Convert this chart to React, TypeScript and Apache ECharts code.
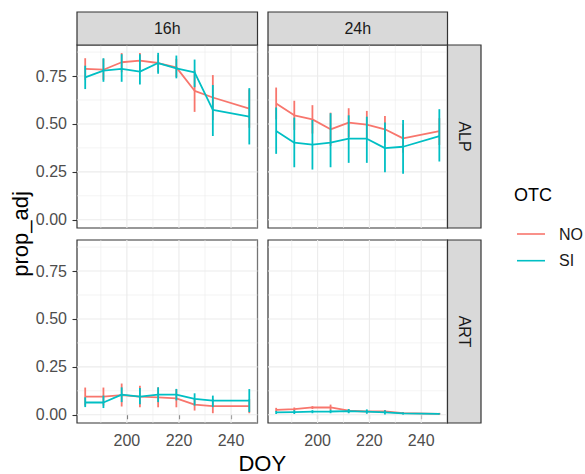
import React, { useEffect, useRef } from "react";
import * as echarts from "echarts";

// ---- data ----
const DOY = [184, 191, 198, 205, 212, 219, 226, 233, 247];
const OTC_LEVELS = ["NO", "SI"];
const PHOTOPERIODS = ["16h", "24h"];
const SITES = ["ALP", "ART"];
const X_TICKS = [200, 220, 240];
const X_MINOR = [190, 210, 230, 250];
const Y_TICKS = [0, 0.25, 0.5, 0.75];
const Y_MINOR = [0.125, 0.375, 0.625, 0.875];

// 16h / ALP
const NO_16h_ALP_mean = [0.787, 0.783, 0.822, 0.83, 0.818, 0.795, 0.673, 0.638, 0.58];
const NO_16h_ALP_lo = [0.73, 0.73, 0.77, 0.78, 0.77, 0.745, 0.563, 0.52, 0.48];
const NO_16h_ALP_hi = [0.843, 0.84, 0.87, 0.87, 0.86, 0.84, 0.78, 0.755, 0.68];
const SI_16h_ALP_mean = [0.743, 0.778, 0.787, 0.773, 0.818, 0.79, 0.769, 0.573, 0.538];
const SI_16h_ALP_lo = [0.682, 0.72, 0.72, 0.706, 0.762, 0.738, 0.692, 0.437, 0.393];
const SI_16h_ALP_hi = [0.804, 0.843, 0.864, 0.864, 0.871, 0.857, 0.836, 0.703, 0.687];
// 24h / ALP
const NO_24h_ALP_mean = [0.607, 0.545, 0.524, 0.472, 0.507, 0.497, 0.472, 0.425, 0.462];
const NO_24h_ALP_lo = [0.524, 0.469, 0.45, 0.385, 0.432, 0.426, 0.402, 0.35, 0.39];
const NO_24h_ALP_hi = [0.69, 0.621, 0.598, 0.559, 0.582, 0.568, 0.542, 0.5, 0.53];
const SI_24h_ALP_mean = [0.463, 0.402, 0.392, 0.402, 0.423, 0.423, 0.374, 0.381, 0.437];
const SI_24h_ALP_lo = [0.344, 0.274, 0.262, 0.274, 0.297, 0.297, 0.248, 0.24, 0.304];
const SI_24h_ALP_hi = [0.586, 0.533, 0.521, 0.556, 0.545, 0.538, 0.507, 0.521, 0.577];
// 16h / ART
const NO_16h_ART_mean = [0.095, 0.095, 0.103, 0.095, 0.091, 0.086, 0.053, 0.045, 0.045];
const NO_16h_ART_lo = [0.048, 0.048, 0.043, 0.039, 0.039, 0.039, 0.022, 0.008, 0.008];
const NO_16h_ART_hi = [0.142, 0.142, 0.163, 0.151, 0.143, 0.133, 0.084, 0.082, 0.082];
const SI_16h_ART_mean = [0.064, 0.064, 0.105, 0.095, 0.105, 0.105, 0.083, 0.074, 0.074];
const SI_16h_ART_lo = [0.04, 0.035, 0.066, 0.055, 0.066, 0.075, 0.048, 0.04, 0.014];
const SI_16h_ART_hi = [0.091, 0.1, 0.143, 0.14, 0.143, 0.135, 0.112, 0.1, 0.134];
// 24h / ART
const NO_24h_ART_mean = [0.026, 0.029, 0.038, 0.038, 0.021, 0.017, 0.017, 0.009, 0.005];
const NO_24h_ART_lo = [0.016, 0.02, 0.03, 0.023, 0.012, 0.009, 0.009, 0.003, 0.0];
const NO_24h_ART_hi = [0.036, 0.038, 0.045, 0.053, 0.03, 0.025, 0.025, 0.015, 0.01];
const SI_24h_ART_mean = [0.012, 0.014, 0.016, 0.017, 0.019, 0.016, 0.012, 0.007, 0.005];
const SI_24h_ART_lo = [0.004, 0.004, 0.008, 0.008, 0.008, 0.005, 0.002, 0.002, 0.002];
const SI_24h_ART_hi = [0.02, 0.024, 0.024, 0.026, 0.03, 0.028, 0.024, 0.012, 0.008];

const PANELS = [
  { col: 0, row: 0, NO: [NO_16h_ALP_mean, NO_16h_ALP_lo, NO_16h_ALP_hi], SI: [SI_16h_ALP_mean, SI_16h_ALP_lo, SI_16h_ALP_hi] },
  { col: 1, row: 0, NO: [NO_24h_ALP_mean, NO_24h_ALP_lo, NO_24h_ALP_hi], SI: [SI_24h_ALP_mean, SI_24h_ALP_lo, SI_24h_ALP_hi] },
  { col: 0, row: 1, NO: [NO_16h_ART_mean, NO_16h_ART_lo, NO_16h_ART_hi], SI: [SI_16h_ART_mean, SI_16h_ART_lo, SI_16h_ART_hi] },
  { col: 1, row: 1, NO: [NO_24h_ART_mean, NO_24h_ART_lo, NO_24h_ART_hi], SI: [SI_24h_ART_mean, SI_24h_ART_lo, SI_24h_ART_hi] },
];

// ---- styling / layout ----
const COLORS: Record<string, string> = { NO: "#F8766D", SI: "#00BFC4" };
const FONT = "'Liberation Sans', Arial, Helvetica, sans-serif";
const COL_LEFT = [77, 268];
const COL_WIDTH = [180.5, 179.5];
const ROW_TOP = [45, 240];
const ROW_HEIGHT = 183;
const STRIP_H = 33;
const STRIP_W = 33.5;
const X_MIN = 180.85;
const X_MAX = 250.15;
const Y_MIN = -0.043;
const Y_MAX = 0.912;

export default function App() {
  const ref = useRef<HTMLDivElement>(null);

  useEffect(() => {
    if (!ref.current) return;
    const chart = echarts.init(ref.current, undefined, { renderer: "svg" });

    const grids: any[] = [];
    const xAxes: any[] = [];
    const yAxes: any[] = [];
    const series: any[] = [];

    const gridRender = (params: any, api: any) => {
      const cs = params.coordSys;
      const x0 = cs.x, y0 = cs.y, x1 = cs.x + cs.width, y1 = cs.y + cs.height;
      const children: any[] = [];
      const addV = (v: number, w: number) => {
        const px = api.coord([v, 0.5])[0];
        if (px > x0 && px < x1)
          children.push({ type: "line", shape: { x1: px, y1: y0, x2: px, y2: y1 }, style: { stroke: "#EBEBEB", lineWidth: w } });
      };
      const addH = (v: number, w: number) => {
        const py = api.coord([215, v])[1];
        if (py > y0 && py < y1)
          children.push({ type: "line", shape: { x1: x0, y1: py, x2: x1, y2: py }, style: { stroke: "#EBEBEB", lineWidth: w } });
      };
      X_MINOR.forEach((v) => addV(v, 0.6));
      Y_MINOR.forEach((v) => addH(v, 0.6));
      X_TICKS.forEach((v) => addV(v, 1.1));
      Y_TICKS.forEach((v) => addH(v, 1.1));
      return { type: "group", children };
    };

    const errRender = (color: string) => (params: any, api: any) => {
      const p1 = api.coord([api.value(0), api.value(1)]);
      const p2 = api.coord([api.value(0), api.value(2)]);
      return {
        type: "line",
        shape: { x1: p1[0], y1: p1[1], x2: p2[0], y2: p2[1] },
        style: { stroke: color, lineWidth: 1.8 },
      };
    };

    PANELS.forEach((p, i) => {
      const bottom = p.row === 1;
      const left = p.col === 0;
      grids.push({
        left: COL_LEFT[p.col],
        top: ROW_TOP[p.row],
        width: COL_WIDTH[p.col],
        height: ROW_HEIGHT,
        show: true,
        backgroundColor: "#FFFFFF",
        borderColor: "#333333",
        borderWidth: 1.2,
        containLabel: false,
      });
      xAxes.push({
        type: "value",
        gridIndex: i,
        min: X_MIN,
        max: X_MAX,
        splitLine: { show: false },
        axisLine: { show: false },
        axisTick: { show: bottom, customValues: X_TICKS, length: 4.5, lineStyle: { color: "#333333", width: 1.1 } },
        axisLabel: {
          show: bottom,
          customValues: X_TICKS,
          color: "#4D4D4D",
          fontSize: 16,
          fontFamily: FONT,
          margin: 9,
        },
      });
      yAxes.push({
        type: "value",
        gridIndex: i,
        min: Y_MIN,
        max: Y_MAX,
        splitLine: { show: false },
        axisLine: { show: false },
        axisTick: { show: left, customValues: Y_TICKS, length: 4.5, lineStyle: { color: "#333333", width: 1.1 } },
        axisLabel: {
          show: left,
          customValues: Y_TICKS,
          color: "#4D4D4D",
          fontSize: 16,
          fontFamily: FONT,
          margin: 10,
          formatter: (v: number) => v.toFixed(2),
        },
      });
      series.push({
        type: "custom",
        name: "grid" + i,
        xAxisIndex: i,
        yAxisIndex: i,
        data: [[215, 0.5]],
        renderItem: gridRender,
        silent: true,
        z: 1,
      });
      OTC_LEVELS.forEach((g, gi) => {
        const [mean, lo, hi] = (p as any)[g] as number[][];
        series.push({
          type: "line",
          name: g,
          xAxisIndex: i,
          yAxisIndex: i,
          data: DOY.map((d, k) => [d, mean[k]]),
          showSymbol: false,
          symbol: "none",
          color: COLORS[g],
          itemStyle: { color: COLORS[g] },
          lineStyle: { color: COLORS[g], width: 1.8 },
          z: 3 + gi * 2,
        });
        series.push({
          type: "custom",
          name: g + "-err",
          xAxisIndex: i,
          yAxisIndex: i,
          data: DOY.map((d, k) => [d, lo[k], hi[k]]),
          encode: { x: 0, y: [1, 2] },
          renderItem: errRender(COLORS[g]),
          z: 4 + gi * 2,
        });
      });
    });

    const graphics: any[] = [];
    PHOTOPERIODS.forEach((lab, c) => {
      graphics.push({
        type: "rect",
        shape: { x: COL_LEFT[c], y: ROW_TOP[0] - STRIP_H, width: COL_WIDTH[c], height: STRIP_H },
        style: { fill: "#D9D9D9", stroke: "#333333", lineWidth: 1.2 },
        z: 10,
      });
      graphics.push({
        type: "text",
        x: COL_LEFT[c] + COL_WIDTH[c] / 2,
        y: ROW_TOP[0] - STRIP_H / 2,
        style: { text: lab, fill: "#1A1A1A", fontSize: 16, fontFamily: FONT, align: "center", verticalAlign: "middle" },
        z: 11,
      });
    });
    const stripX = COL_LEFT[1] + COL_WIDTH[1];
    SITES.forEach((lab, r) => {
      graphics.push({
        type: "rect",
        shape: { x: stripX, y: ROW_TOP[r], width: STRIP_W, height: ROW_HEIGHT },
        style: { fill: "#D9D9D9", stroke: "#333333", lineWidth: 1.2 },
        z: 10,
      });
      graphics.push({
        type: "text",
        x: stripX + STRIP_W / 2,
        y: ROW_TOP[r] + ROW_HEIGHT / 2,
        rotation: -Math.PI / 2,
        style: { text: lab, fill: "#1A1A1A", fontSize: 16, fontFamily: FONT, align: "center", verticalAlign: "middle" },
        z: 11,
      });
    });
    graphics.push({
      type: "text",
      x: (COL_LEFT[0] + COL_LEFT[1] + COL_WIDTH[1]) / 2,
      y: 463,
      style: { text: "DOY", fill: "#000000", fontSize: 22, fontFamily: FONT, align: "center", verticalAlign: "middle" },
    });
    graphics.push({
      type: "text",
      x: 20,
      y: (ROW_TOP[0] + ROW_TOP[1] + ROW_HEIGHT) / 2,
      rotation: Math.PI / 2,
      style: { text: "prop_adj", fill: "#000000", fontSize: 22, fontFamily: FONT, align: "center", verticalAlign: "middle" },
    });
    graphics.push({
      type: "text",
      x: 514,
      y: 195,
      style: { text: "OTC", fill: "#000000", fontSize: 18, fontFamily: FONT, align: "left", verticalAlign: "middle" },
    });

    chart.setOption({
      animation: false,
      backgroundColor: "#FFFFFF",
      grid: grids,
      xAxis: xAxes,
      yAxis: yAxes,
      series,
      legend: {
        data: OTC_LEVELS,
        orient: "vertical",
        left: 517,
        top: 226,
        padding: 0,
        icon: "rect",
        itemWidth: 28,
        itemHeight: 1.6,
        itemGap: 10.7,
        selectedMode: false,
        textStyle: { fontSize: 16, color: "#1A1A1A", fontFamily: FONT, padding: [0, 0, 0, 9] },
      },
      graphic: graphics,
    });

    return () => chart.dispose();
  }, []);

  return (
    <div
      ref={ref}
      style={{ position: "fixed", left: 0, top: 0, width: 585, height: 474, background: "#fff" }}
    />
  );
}
